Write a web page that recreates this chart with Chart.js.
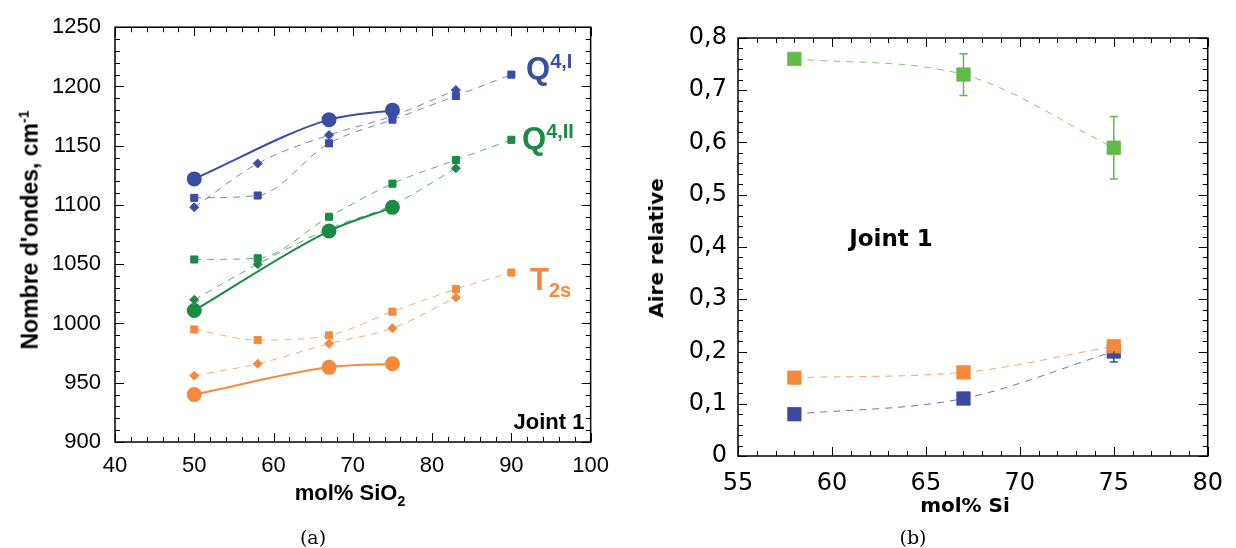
<!DOCTYPE html>
<html lang="fr">
<head>
  <meta charset="UTF-8">
  <title>Nombre d'ondes et aire relative - Joint 1</title>
  <script src="https://cdn.jsdelivr.net/npm/chart.js"></script>
  <style>
    body { margin: 0; background: #fff; width: 1236px; height: 548px; position: relative; overflow: hidden; font-family: "Liberation Sans", Arial, sans-serif; }
    canvas { position: absolute; top: 0; }
    #chartA { left: 0; }
    #chartB { left: 620px; }
    .lbl { position: absolute; white-space: nowrap; line-height: 1; }
    .bold { font-weight: bold; }
    .rot { transform: translate(-50%, -50%) rotate(-90deg); }
    .ctr { transform: translate(-50%, -50%); }
    .cap { font-family: "DejaVu Serif", "Liberation Serif", serif; font-size: 19px; }
    .dv { font-family: "DejaVu Sans", sans-serif; }
  </style>
</head>
<body>
  <canvas id="chartA" width="620" height="548"></canvas>
  <canvas id="chartB" width="616" height="548"></canvas>

  <div class="lbl bold rot" style="left:29px; top:230px; font-size:23px;">Nombre d'ondes, cm<sup style="font-size:14px;">-1</sup></div>
  <div class="lbl bold ctr" style="left:350px; top:495px; font-size:22px;">mol% SiO<sub style="font-size:14px;">2</sub></div>
  <div class="lbl bold" style="left:526px; top:51px; font-size:31px; color:#3a4ea3;">Q<sup style="font-size:20px;">4,I</sup></div>
  <div class="lbl bold" style="left:522px; top:121px; font-size:31px; color:#1a8a44;">Q<sup style="font-size:20px;">4,II</sup></div>
  <div class="lbl bold" style="left:530px; top:264px; font-size:31px; color:#f58a3c;">T<sub style="font-size:20px;">2s</sub></div>
  <div class="lbl bold ctr" style="left:549px; top:422px; font-size:22px;">Joint 1</div>
  <div class="lbl cap ctr" style="left:313px; top:537px;">(a)</div>

  <div class="lbl bold dv rot" style="left:656px; top:248px; font-size:20px;">Aire relative</div>
  <div class="lbl bold dv ctr" style="left:965px; top:505px; font-size:20px;">mol% Si</div>
  <div class="lbl bold dv ctr" style="left:891px; top:238px; font-size:23px;">Joint 1</div>
  <div class="lbl cap ctr" style="left:913px; top:537px;">(b)</div>

  <script>
    // ---- (a) nombre d'ondes vs mol% SiO2 ----
    const xCircle = [50, 67, 75];
    const xSquare = [50, 58, 67, 75, 83, 90];
    const xDiamond = [50, 58, 67, 75, 83];

    const q4iCircle = [1122, 1172, 1180];
    const q4iSquare = [1106, 1108, 1152, 1172, 1192, 1210];
    const q4iDiamond = [1098, 1135, 1159, 1175, 1197];

    const q4iiCircle = [1011, 1078, 1098];
    const q4iiSquare = [1054, 1055, 1090, 1118, 1138, 1155];
    const q4iiDiamond = [1020, 1050, 1080, 1100, 1131];

    const t2sCircle = [940, 963, 966];
    const t2sSquare = [995, 986, 990, 1010, 1029, 1043];
    const t2sDiamond = [956, 966, 983, 996, 1022];

    // ---- (b) aire relative vs mol% Si ----
    const xSi = [58, 67, 75];
    const aireGreen = [0.76, 0.73, 0.59];
    const aireGreenErr = [0, 0.04, 0.06];
    const aireOrange = [0.15, 0.16, 0.21];
    const aireOrangeErr = [0, 0, 0];
    const aireBlue = [0.08, 0.11, 0.20];
    const aireBlueErr = [0, 0, 0.02];

    const BLUE = '#3a4ea3', GREEN = '#1a8a44', ORANGE = '#f58a3c';
    const GREEN_B = '#63b94a', BLUE_B = '#3b4a9f', ORANGE_B = '#f5883a';

    function pts(xs, ys) { return xs.map((x, i) => ({ x: x, y: ys[i] })); }

    function solid(xs, ys, color) {
      return { data: pts(xs, ys), borderColor: color, backgroundColor: color, borderWidth: 2,
        pointStyle: 'circle', pointRadius: 6.5, tension: 0.4, cubicInterpolationMode: 'monotone' };
    }
    function dashed(xs, ys, color, style, r) {
      return { data: pts(xs, ys), borderColor: color + 'b0', backgroundColor: color, pointBorderColor: color,
        borderWidth: 1, borderDash: [7, 6], pointStyle: style, pointRadius: r, tension: 0.4,
        cubicInterpolationMode: 'monotone' };
    }

    // inward ticks on all four sides + frame
    const frameTicks = {
      id: 'frameTicks',
      afterDraw(chart, args, opts) {
        const { ctx, chartArea: a, scales: { x, y } } = chart;
        ctx.save();
        ctx.strokeStyle = '#000';
        ctx.lineWidth = 1.5;
        ctx.strokeRect(a.left, a.top, a.right - a.left, a.bottom - a.top);
        ctx.lineWidth = 1;
        ctx.beginPath();
        const eps = 1e-9;
        for (let v = x.min; v <= x.max + eps; v += opts.xMinor) {
          const px = Math.round(x.getPixelForValue(v)) + 0.5;
          const major = Math.abs(Math.round(v / opts.xMajor) * opts.xMajor - v) < 1e-6;
          const len = major ? 9 : 5;
          ctx.moveTo(px, a.bottom); ctx.lineTo(px, a.bottom - len);
          ctx.moveTo(px, a.top); ctx.lineTo(px, a.top + len);
        }
        for (let v = y.min; v <= y.max + eps; v += opts.yMinor) {
          const py = Math.round(y.getPixelForValue(v)) + 0.5;
          const major = Math.abs(Math.round(v / opts.yMajor) * opts.yMajor - v) < 1e-6;
          const len = major ? 9 : 5;
          ctx.moveTo(a.left, py); ctx.lineTo(a.left + len, py);
          ctx.moveTo(a.right, py); ctx.lineTo(a.right - len, py);
        }
        ctx.stroke();
        ctx.restore();
      }
    };

    const errorBars = {
      id: 'errorBars',
      afterDatasetsDraw(chart, args, opts) {
        const { ctx, scales: { x, y } } = chart;
        ctx.save();
        opts.sets.forEach(s => {
          ctx.strokeStyle = s.color;
          ctx.lineWidth = 1.5;
          s.ys.forEach((v, i) => {
            const e = s.err[i];
            if (!e) return;
            const px = x.getPixelForValue(s.xs[i]);
            const hi = y.getPixelForValue(v + (s.downOnly ? 0 : e));
            const lo = y.getPixelForValue(v - e);
            ctx.beginPath();
            ctx.moveTo(px, hi); ctx.lineTo(px, lo);
            ctx.moveTo(px - 4, lo); ctx.lineTo(px + 4, lo);
            if (!s.downOnly) { ctx.moveTo(px - 4, hi); ctx.lineTo(px + 4, hi); }
            ctx.stroke();
          });
        });
        ctx.restore();
      }
    };

    new Chart(document.getElementById('chartA'), {
      type: 'line',
      data: {
        datasets: [
          dashed(xSquare, q4iSquare, BLUE, 'rect', 5),
          dashed(xDiamond, q4iDiamond, BLUE, 'rectRot', 4.5),
          solid(xCircle, q4iCircle, BLUE),
          dashed(xSquare, q4iiSquare, GREEN, 'rect', 5),
          dashed(xDiamond, q4iiDiamond, GREEN, 'rectRot', 4.5),
          solid(xCircle, q4iiCircle, GREEN),
          dashed(xSquare, t2sSquare, ORANGE, 'rect', 5),
          dashed(xDiamond, t2sDiamond, ORANGE, 'rectRot', 4.5),
          solid(xCircle, t2sCircle, ORANGE)
        ]
      },
      options: {
        responsive: false, animation: false,
        layout: { padding: { top: 24, right: 25, left: 0, bottom: 0 } },
        plugins: { legend: { display: false }, tooltip: { enabled: false },
          frameTicks: { xMajor: 10, xMinor: 2, yMajor: 50, yMinor: 10 } },
        scales: {
          x: { type: 'linear', min: 40, max: 100,
            afterFit(s) { s.height = 106; },
            grid: { display: false, drawTicks: false }, border: { display: false },
            ticks: { stepSize: 10, padding: 11, color: '#000', font: { family: 'Liberation Sans', size: 22 },
              callback: v => String(v) } },
          y: { min: 900, max: 1250,
            afterFit(s) { s.width = 115; },
            grid: { display: false, drawTicks: false }, border: { display: false },
            ticks: { stepSize: 50, padding: 14, color: '#000', font: { family: 'Liberation Sans', size: 22 },
              callback: v => String(v) } }
        }
      },
      plugins: [frameTicks]
    });

    new Chart(document.getElementById('chartB'), {
      type: 'line',
      data: {
        datasets: [
          { data: pts(xSi, aireGreen), borderColor: GREEN_B + 'c0', backgroundColor: GREEN_B, borderWidth: 1,
            borderDash: [7, 6], pointStyle: 'rect', pointRadius: 9.5, tension: 0.4, cubicInterpolationMode: 'monotone' },
          { data: pts(xSi, aireOrange), borderColor: ORANGE_B + 'c0', backgroundColor: ORANGE_B, borderWidth: 1,
            borderDash: [7, 6], pointStyle: 'rect', pointRadius: 9.5, tension: 0.4, cubicInterpolationMode: 'monotone' },
          { data: pts(xSi, aireBlue), borderColor: BLUE_B + 'c0', backgroundColor: BLUE_B, borderWidth: 1,
            borderDash: [7, 6], pointStyle: 'rect', pointRadius: 9.5, tension: 0.4, cubicInterpolationMode: 'monotone' }
        ]
      },
      options: {
        responsive: false, animation: false,
        layout: { padding: { top: 38, right: 18, left: 0, bottom: 0 } },
        plugins: { legend: { display: false }, tooltip: { enabled: false },
          frameTicks: { xMajor: 5, xMinor: 1, yMajor: 0.1, yMinor: 0.02 },
          errorBars: { sets: [
            { xs: xSi, ys: aireGreen, err: aireGreenErr, color: GREEN_B },
            { xs: xSi, ys: aireOrange, err: aireOrangeErr, color: ORANGE_B },
            { xs: xSi, ys: aireBlue, err: aireBlueErr, color: BLUE_B, downOnly: true }
          ] } },
        scales: {
          x: { type: 'linear', min: 55, max: 80,
            afterFit(s) { s.height = 92; },
            grid: { display: false, drawTicks: false }, border: { display: false },
            ticks: { stepSize: 5, padding: 13, color: '#000', font: { family: 'DejaVu Sans', size: 24 } } },
          y: { min: 0, max: 0.8,
            afterFit(s) { s.width = 118; },
            grid: { display: false, drawTicks: false }, border: { display: false },
            ticks: { stepSize: 0.1, padding: 11, color: '#000', font: { family: 'DejaVu Sans', size: 24 },
              callback: v => v === 0 ? '0' : v.toFixed(1).replace('.', ',') } }
        }
      },
      plugins: [frameTicks, errorBars]
    });
  </script>
</body>
</html>
